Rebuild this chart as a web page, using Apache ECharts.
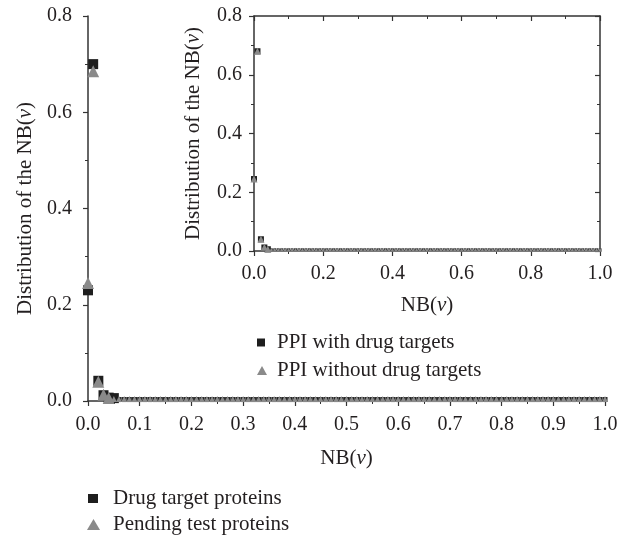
<!DOCTYPE html>
<html><head><meta charset="utf-8">
<script src="https://cdn.jsdelivr.net/npm/echarts@6/dist/echarts.min.js"></script>
<style>html,body{margin:0;padding:0;background:#fff}#c{width:628px;height:537px}</style>
</head><body><div id="c"></div>
<script>
// NB(v) positions (step 0.01)
var xs = [0.00,0.01,0.02,0.03,0.04,0.05,0.06,0.07,0.08,0.09,0.10,0.11,0.12,0.13,0.14,0.15,0.16,0.17,0.18,0.19,0.20,0.21,0.22,0.23,0.24,0.25,0.26,0.27,0.28,0.29,0.30,0.31,0.32,0.33,0.34,0.35,0.36,0.37,0.38,0.39,0.40,0.41,0.42,0.43,0.44,0.45,0.46,0.47,0.48,0.49,0.50,0.51,0.52,0.53,0.54,0.55,0.56,0.57,0.58,0.59,0.60,0.61,0.62,0.63,0.64,0.65,0.66,0.67,0.68,0.69,0.70,0.71,0.72,0.73,0.74,0.75,0.76,0.77,0.78,0.79,0.80,0.81,0.82,0.83,0.84,0.85,0.86,0.87,0.88,0.89,0.90,0.91,0.92,0.93,0.94,0.95,0.96,0.97,0.98,0.99,1.00];
// main chart
var drugTarget = [0.230,0.700,0.042,0.012,0.007,0.006,0.003,0.003,0.003,0.003,0.003,0.003,0.003,0.003,0.003,0.003,0.003,0.003,0.003,0.003,0.003,0.003,0.003,0.003,0.003,0.003,0.003,0.003,0.003,0.003,0.003,0.003,0.003,0.003,0.003,0.003,0.003,0.003,0.003,0.003,0.003,0.003,0.003,0.003,0.003,0.003,0.003,0.003,0.003,0.003,0.003,0.003,0.003,0.003,0.003,0.003,0.003,0.003,0.003,0.003,0.003,0.003,0.003,0.003,0.003,0.003,0.003,0.003,0.003,0.003,0.003,0.003,0.003,0.003,0.003,0.003,0.003,0.003,0.003,0.003,0.003,0.003,0.003,0.003,0.003,0.003,0.003,0.003,0.003,0.003,0.003,0.003,0.003,0.003,0.003,0.003,0.003,0.003,0.003,0.003,0.003];
var pending = [0.245,0.685,0.040,0.013,0.006,0.004,0.004,0.004,0.004,0.004,0.004,0.004,0.004,0.004,0.004,0.004,0.004,0.004,0.004,0.004,0.004,0.004,0.004,0.004,0.004,0.004,0.004,0.004,0.004,0.004,0.004,0.004,0.004,0.004,0.004,0.004,0.004,0.004,0.004,0.004,0.004,0.004,0.004,0.004,0.004,0.004,0.004,0.004,0.004,0.004,0.004,0.004,0.004,0.004,0.004,0.004,0.004,0.004,0.004,0.004,0.004,0.004,0.004,0.004,0.004,0.004,0.004,0.004,0.004,0.004,0.004,0.004,0.004,0.004,0.004,0.004,0.004,0.004,0.004,0.004,0.004,0.004,0.004,0.004,0.004,0.004,0.004,0.004,0.004,0.004,0.004,0.004,0.004,0.004,0.004,0.004,0.004,0.004,0.004,0.004,0.004];
// inset chart
var ppiWith = [0.245,0.680,0.040,0.012,0.006,0.004,0.004,0.004,0.004,0.004,0.004,0.004,0.004,0.004,0.004,0.004,0.004,0.004,0.004,0.004,0.004,0.004,0.004,0.004,0.004,0.004,0.004,0.004,0.004,0.004,0.004,0.004,0.004,0.004,0.004,0.004,0.004,0.004,0.004,0.004,0.004,0.004,0.004,0.004,0.004,0.004,0.004,0.004,0.004,0.004,0.004,0.004,0.004,0.004,0.004,0.004,0.004,0.004,0.004,0.004,0.004,0.004,0.004,0.004,0.004,0.004,0.004,0.004,0.004,0.004,0.004,0.004,0.004,0.004,0.004,0.004,0.004,0.004,0.004,0.004,0.004,0.004,0.004,0.004,0.004,0.004,0.004,0.004,0.004,0.004,0.004,0.004,0.004,0.004,0.004,0.004,0.004,0.004,0.004,0.004,0.004];
var ppiWithout = [0.245,0.680,0.040,0.013,0.006,0.004,0.004,0.004,0.004,0.004,0.004,0.004,0.004,0.004,0.004,0.004,0.004,0.004,0.004,0.004,0.004,0.004,0.004,0.004,0.004,0.004,0.004,0.004,0.004,0.004,0.004,0.004,0.004,0.004,0.004,0.004,0.004,0.004,0.004,0.004,0.004,0.004,0.004,0.004,0.004,0.004,0.004,0.004,0.004,0.004,0.004,0.004,0.004,0.004,0.004,0.004,0.004,0.004,0.004,0.004,0.004,0.004,0.004,0.004,0.004,0.004,0.004,0.004,0.004,0.004,0.004,0.004,0.004,0.004,0.004,0.004,0.004,0.004,0.004,0.004,0.004,0.004,0.004,0.004,0.004,0.004,0.004,0.004,0.004,0.004,0.004,0.004,0.004,0.004,0.004,0.004,0.004,0.004,0.004,0.004,0.004];

function pairs(ys){ return xs.map(function(x,i){ return [x, ys[i]]; }); }

var FONT = 'Liberation Serif';
var TXT = '#231f20';
var AX = '#333';
var DARK = '#1e1e1e';
var GRAY = '#8a8a8a';
var LBL = 20, TTL = 21;

function axisCommon(interval, min, max, showLabel, inside, margin){
  return {
    type:'value', min:min, max:max, interval:interval,
    axisLine:{show:true, onZero:false, lineStyle:{color:AX, width:1.5}},
    axisTick:{show:true, inside:!!inside, length:5, lineStyle:{color:AX, width:1.2}},
    minorTick:{show:true, splitNumber:2, length:3, lineStyle:{color:AX, width:1}},
    splitLine:{show:false},
    axisLabel:{show:showLabel, fontFamily:FONT, fontSize:LBL, color:TXT, margin:margin||8,
      formatter:function(v){return v.toFixed(1);}},
    nameTextStyle:{fontFamily:FONT, fontSize:TTL, color:TXT,
      rich:{i:{fontFamily:FONT, fontSize:TTL, color:TXT, fontStyle:'italic'}}}
  };
}

var mx = axisCommon(0.1,0,1,true,false,14); mx.gridIndex=0; mx.position='bottom';
mx.name='NB({i|ν})'; mx.nameLocation='middle'; mx.nameGap=47;
var my = axisCommon(0.2,0,0.8,true,false,16); my.gridIndex=0; my.position='left';
my.name='Distribution of the NB({i|ν})'; my.nameLocation='middle'; my.nameGap=52;

var ix = axisCommon(0.2,0,1,true,false,13); ix.gridIndex=1; ix.position='bottom';
ix.name='NB({i|ν})'; ix.nameLocation='middle'; ix.nameGap=44;
var iy = axisCommon(0.2,0,0.8,true,false,12); iy.gridIndex=1; iy.position='left';
iy.name='Distribution of the NB({i|ν})'; iy.nameLocation='middle'; iy.nameGap=50;
var ixTop = axisCommon(0.2,0,1,false,true); ixTop.gridIndex=1; ixTop.position='top';
var iyRight = axisCommon(0.2,0,0.8,false,true); iyRight.gridIndex=1; iyRight.position='right';

function bigSize(v){ return v[1] > 0.005 ? 10 : 5; }
function bigSizeT(v){ return v[1] > 0.005 ? 12 : 6; }
function smallSize(v){ return v[1] > 0.005 ? 6 : 3; }
function smallSizeT(v){ return v[1] > 0.005 ? 7 : 4; }

var chart = echarts.init(document.getElementById('c'), null, {renderer:'canvas'});
chart.setOption({
  animation:false,
  backgroundColor:'#fff',
  grid:[
    {left:88, right:23, top:16, bottom:136},
    {left:254, right:28, top:16, bottom:286}
  ],
  xAxis:[mx, ix, ixTop],
  yAxis:[my, iy, iyRight],
  legend:[
    {orient:'vertical', left:87, top:488, height:70, padding:0, itemGap:5, itemWidth:21, itemHeight:12,
     textStyle:{fontFamily:FONT, fontSize:TTL, color:TXT},
     data:[{name:'Drug target proteins', icon:'path://M0,0M21,12M1,1.5h10v9h-10z', itemStyle:{color:DARK}},
           {name:'Pending test proteins', icon:'path://M0,0M21,12M0,11.5L6.5,0.5L13,11.5z', itemStyle:{color:GRAY}}]},
    {orient:'vertical', left:257, top:332, height:70, padding:0, itemGap:7, itemWidth:15, itemHeight:10,
     textStyle:{fontFamily:FONT, fontSize:TTL, color:TXT},
     data:[{name:'PPI with drug targets', icon:'path://M0,0M15,10M0,1h8v8h-8z', itemStyle:{color:DARK}},
           {name:'PPI without drug targets', icon:'path://M0,0M15,10M0,9.5L5,0.5L10,9.5z', itemStyle:{color:GRAY}}]}
  ],
  series:[
    {name:'Drug target proteins', type:'scatter', xAxisIndex:0, yAxisIndex:0,
     symbol:'rect', symbolSize:bigSize, itemStyle:{color:DARK, opacity:1}, data:pairs(drugTarget)},
    {name:'Pending test proteins', type:'scatter', xAxisIndex:0, yAxisIndex:0,
     symbol:'triangle', symbolSize:bigSizeT, itemStyle:{color:GRAY, opacity:1}, data:pairs(pending)},
    {name:'PPI with drug targets', type:'scatter', xAxisIndex:1, yAxisIndex:1,
     symbol:'rect', symbolSize:smallSize, itemStyle:{color:DARK, opacity:1}, data:pairs(ppiWith)},
    {name:'PPI without drug targets', type:'scatter', xAxisIndex:1, yAxisIndex:1,
     symbol:'triangle', symbolSize:smallSizeT, itemStyle:{color:GRAY, opacity:1}, data:pairs(ppiWithout)}
  ]
});
</script>
</body></html>
